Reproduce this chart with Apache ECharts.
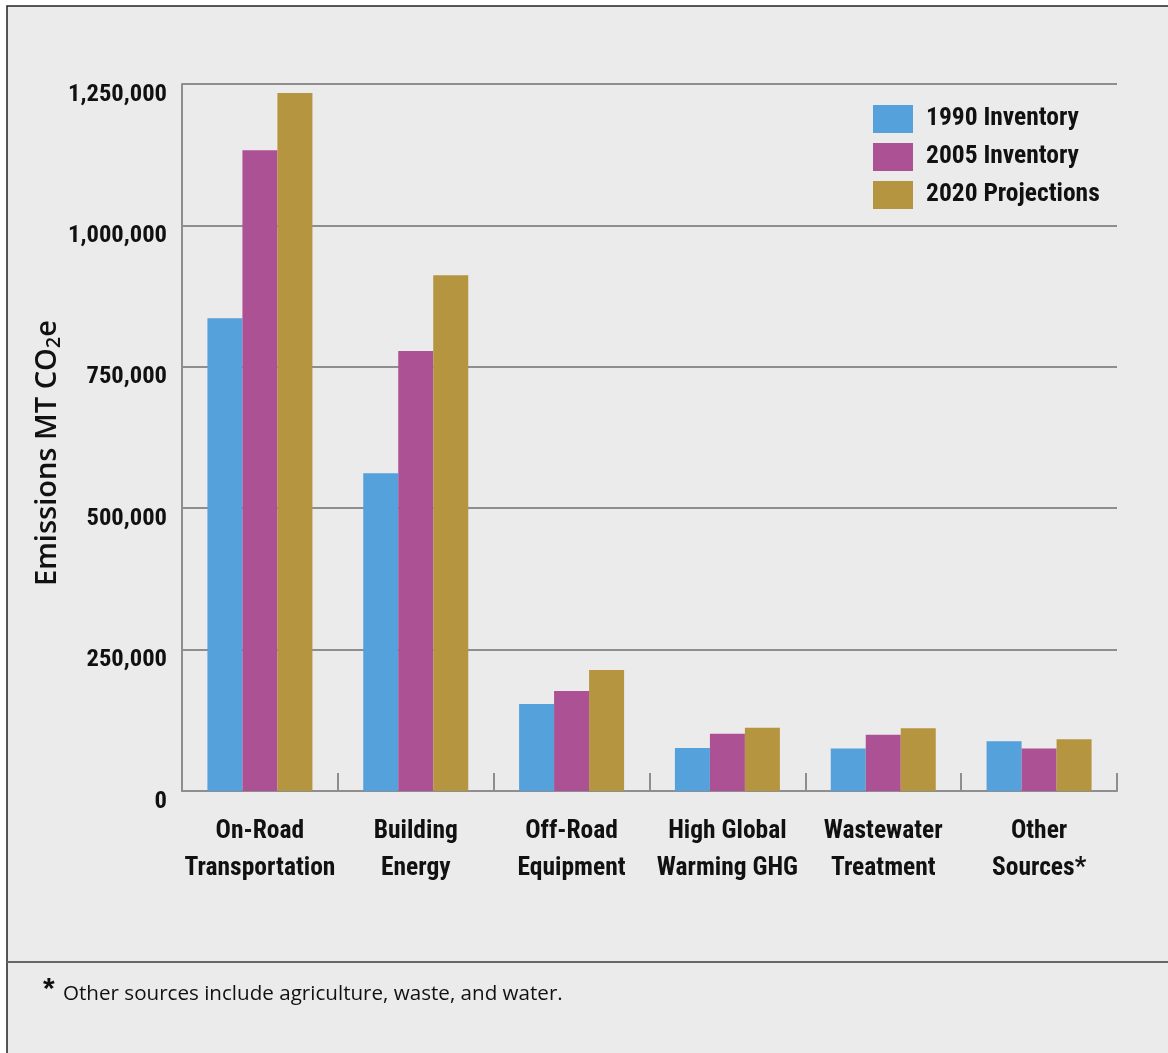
<!DOCTYPE html>
<html>
<head>
<meta charset="utf-8">
<script src="https://cdn.jsdelivr.net/npm/echarts@6/dist/echarts.min.js"></script>
<style>
html,body{margin:0;padding:0;background:#fff;}
#chart{width:1168px;height:1053px;}
</style>
</head>
<body>
<div id="chart"></div>
<script>
const categories = ['On-Road\nTransportation', 'Building\nEnergy', 'Off-Road\nEquipment', 'High Global\nWarming GHG', 'Wastewater\nTreatment', 'Other\nSources*'];
const seriesNames = ['1990 Inventory', '2005 Inventory', '2020 Projections'];
const inv1990 = [836000, 562000, 154000, 76000, 75000, 88000];
const inv2005 = [1133000, 778000, 177000, 101000, 99500, 75000];
const proj2020 = [1234000, 912000, 214000, 112000, 111000, 91500];
const yTicks = [0, 250000, 500000, 750000, 1000000, 1250000];

const colors = ['#55a1db', '#ad5195', '#b5953f'];
const gridColor = '#8e8e8e';

// pick the narrowest installed font, then size it so label widths match the reference
const cv = document.createElement('canvas').getContext('2d');
function width(font, t) { cv.font = font; return cv.measureText(t).width; }
function installed(fam) {
  const t = 'Transportation 1,250,000';
  return width('bold 40px "' + fam + '", monospace', t) !== width('bold 40px monospace', t) ||
         width('bold 40px "' + fam + '", serif', t) !== width('bold 40px serif', t);
}
const candidates = ['Roboto Condensed', 'Liberation Sans Narrow', 'Open Sans Condensed', 'DejaVu Sans Condensed', 'Roboto'];
let condFam = 'sans-serif';
for (const c of candidates) { if (installed(c)) { condFam = '"' + c + '"'; break; } }
function fitSize(text, target, weight, fam) {
  return +(40 * target / width(weight + ' 40px ' + fam + ', sans-serif', text)).toFixed(2);
}
const labelSize = fitSize('Transportation', 151, 'bold', condFam);
const ySize = fitSize('1,250,000', 99, 'bold', condFam);
const legSize = fitSize('1990 Inventory', 153, 'bold', condFam);
const condFont = condFam + ', sans-serif';

const chart = echarts.init(document.getElementById('chart'), null, {renderer: 'canvas'});
const values = [inv1990, inv2005, proj2020];

chart.setOption({
  animation: false,
  backgroundColor: '#ffffff',
  graphic: [
    {type: 'rect', z: -10, shape: {x: 7, y: 6, width: 1200, height: 1100},
     style: {fill: '#ebebeb', stroke: '#222', lineWidth: 1.5}},
    {type: 'line', z: -5, shape: {x1: 7, y1: 962, x2: 1168, y2: 962},
     style: {stroke: '#666', lineWidth: 2}},
    {type: 'text', x: 48, y: 453, rotation: Math.PI / 2,
     style: {text: '{a|Emissions MT CO}{s|2}{a|e}', align: 'center', verticalAlign: 'middle',
       rich: {
         a: {font: '600 29px "Open Sans", sans-serif', fill: '#111'},
         s: {font: '600 20px "Open Sans", sans-serif', fill: '#111', padding: [13, 0, 0, 0]}
       }}},
    {type: 'text', x: 43, y: 975,
     style: {text: '*', font: 'bold 30px "Liberation Sans", sans-serif', fill: '#111'}},
    {type: 'text', x: 63, y: 984,
     style: {text: 'Other sources include agriculture, waste, and water.', font: '20.6px "Open Sans", sans-serif', fill: '#111'}}
  ],
  legend: {
    orient: 'vertical', left: 873, top: 105, padding: 0,
    itemWidth: 40, itemHeight: 28, itemGap: 10, icon: 'rect',
    textStyle: {fontFamily: condFont, fontWeight: 'bold', fontSize: legSize, color: '#111', padding: [5, 0, 0, 8]},
    data: seriesNames
  },
  grid: {left: 182, right: 51, top: 84, bottom: 262, containLabel: false},
  xAxis: {
    type: 'category', data: categories,
    axisLine: {lineStyle: {color: gridColor, width: 2}},
    axisTick: {show: true, inside: true, length: 18, lineStyle: {color: gridColor, width: 2}},
    axisLabel: {fontFamily: condFont, fontWeight: 'bold', fontSize: labelSize, color: '#111', lineHeight: 37, margin: 22, interval: 0}
  },
  yAxis: {
    type: 'value', min: yTicks[0], max: yTicks[yTicks.length - 1], interval: yTicks[1] - yTicks[0],
    axisLine: {show: true, lineStyle: {color: gridColor, width: 2}},
    axisTick: {show: false},
    splitLine: {lineStyle: {color: gridColor, width: 2}},
    axisLabel: {fontFamily: condFont, fontWeight: 'bold', fontSize: ySize, color: '#111', margin: 15,
      verticalAlign: 'top', lineHeight: 21,
      formatter: v => v.toLocaleString('en-US')}
  },
  series: seriesNames.map((n, i) => ({
    name: n, type: 'bar', data: values[i], barWidth: 35, barGap: '0%',
    itemStyle: {color: colors[i]}
  }))
});
</script>
</body>
</html>
